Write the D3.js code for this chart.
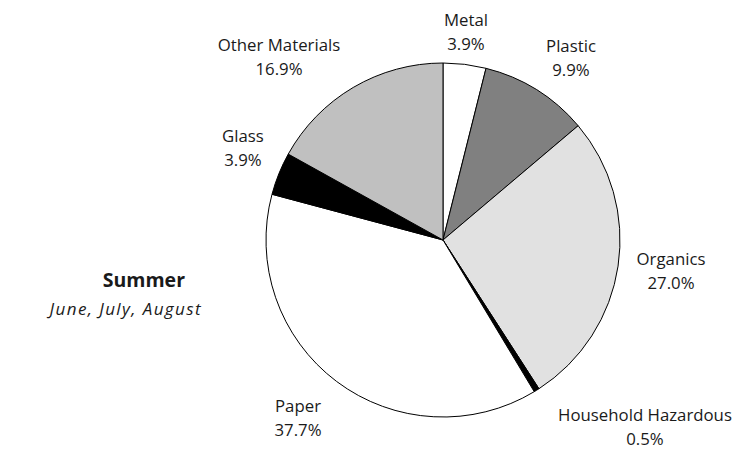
<!DOCTYPE html>
<html>
<head>
<meta charset="utf-8">
<script src="https://cdn.jsdelivr.net/npm/d3@7"></script>
<style>
  html, body { margin: 0; padding: 0; background: #fff; }
  svg { display: block; }
  text { font-family: "Open Sans", "DejaVu Sans", sans-serif; fill: #1a1a1a; }
</style>
</head>
<body>
<svg id="chart" width="734" height="450"></svg>
<script>
// Summer waste composition, clockwise from 12 o'clock
const categories = ["Metal", "Plastic", "Organics", "Household Hazardous", "Paper", "Glass", "Other Materials"];
const shares = [3.9, 9.9, 27.0, 0.5, 37.7, 3.9, 16.9];
const fills = ["#ffffff", "#808080", "#e1e1e1", "#000000", "#ffffff", "#000000", "#c0c0c0"];

// label anchor (centre of first line's baseline) per slice
const labelPos = [
  [466, 26], [571, 52], [671, 265], [645, 421], [298, 412], [243, 142], [279, 51]
];

const svg = d3.select("#chart");
const cx = 443, cy = 240, r = 177;

const pie = d3.pie().sort(null).value(d => d);
const arc = d3.arc().innerRadius(0).outerRadius(r);

const g = svg.append("g").attr("transform", `translate(${cx},${cy})`);
g.selectAll("path")
  .data(pie(shares))
  .join("path")
  .attr("d", arc)
  .attr("fill", (d, i) => fills[i])
  .attr("stroke", "#000")
  .attr("stroke-width", 1)
  .attr("stroke-linejoin", "round");

const labels = svg.append("g").attr("font-size", 16.8);
categories.forEach((c, i) => {
  const t = labels.append("text")
    .attr("text-anchor", "middle")
    .attr("x", labelPos[i][0])
    .attr("y", labelPos[i][1]);
  t.append("tspan").attr("x", labelPos[i][0]).text(c);
  t.append("tspan").attr("x", labelPos[i][0]).attr("dy", 24)
    .text(shares[i].toFixed(1) + "%");
});

// season title
svg.append("text")
  .attr("x", 185).attr("y", 287)
  .attr("text-anchor", "end")
  .attr("font-size", 19.5).attr("font-weight", "bold")
  .text("Summer");
svg.append("text")
  .attr("x", 202).attr("y", 315)
  .attr("text-anchor", "end")
  .attr("font-size", 17).attr("font-style", "italic")
  .attr("letter-spacing", 1.4)
  .text("June, July, August");
</script>
</body>
</html>
